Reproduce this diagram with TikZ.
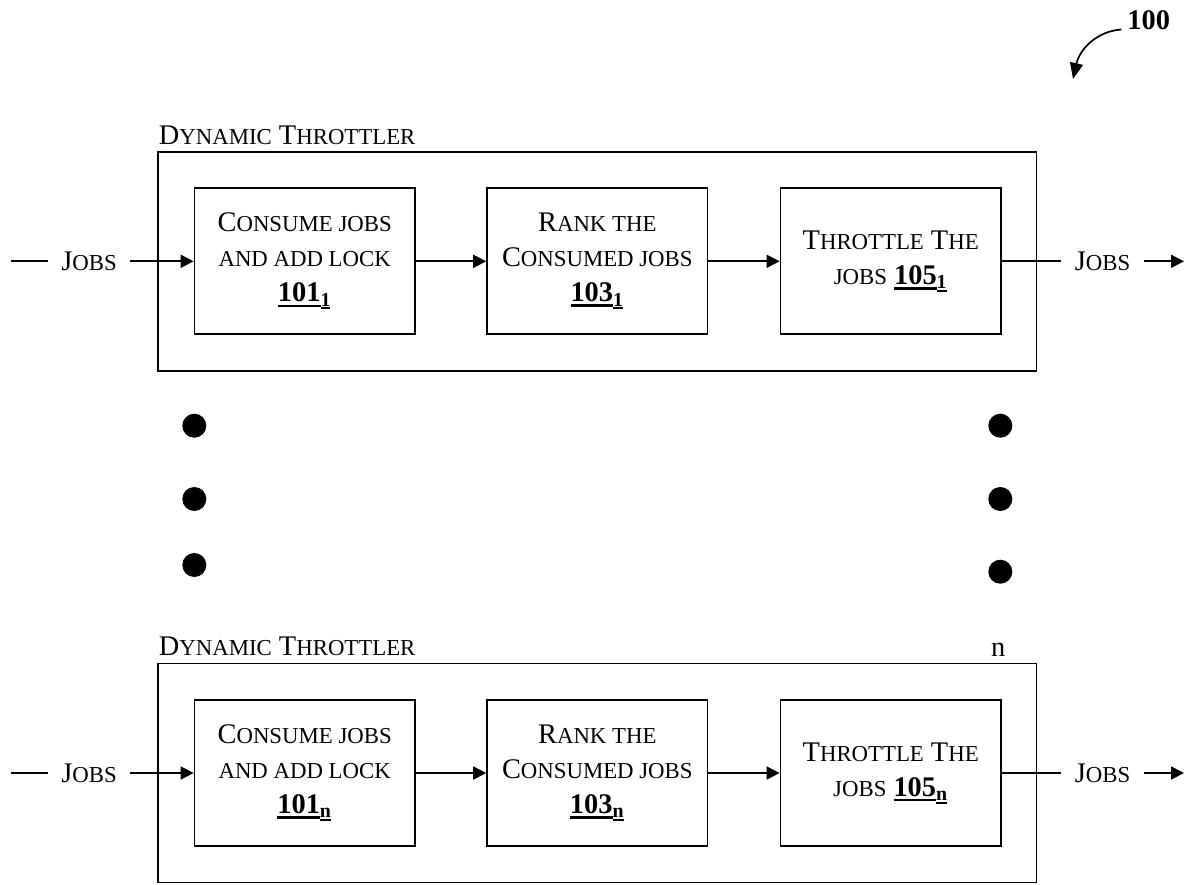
\documentclass[tikz,border=0pt]{standalone}
\usepackage{fontspec}
\setmainfont{Liberation Serif}
\usetikzlibrary{arrows.meta}

% faked small capitals: lower-case letters typed as smaller capitals
\newcommand\smc[1]{{\fontsize{11.4pt}{17.5pt}\selectfont #1}}
% heavy underline under a box of text
\newcommand\ulbar[3]{\setbox0\hbox{#1}\rlap{\rule[#2]{\wd0}{#3}}\box0}
% bold underlined reference numeral with a bold underlined index
\newcommand\refnum[2]{\textbf{\ulbar{#1}{-2.6pt}{1.3pt}}\textsubscript{\textbf{\ulbar{#2}{-1.6pt}{1pt}}}}

\tikzset{
  basefont/.style={font=\fontsize{14.2pt}{17.5pt}\selectfont},
  frame/.style={draw, line width=0.85pt, minimum width=439.3pt, minimum height=109.6pt, inner sep=0},
  stepbox/.style={draw, line width=0.85pt, minimum width=110.25pt, minimum height=73pt,
                  inner sep=0, align=center, basefont},
  flowlabel/.style={inner xsep=6.5pt, inner ysep=0, text height=9.4pt, text depth=0pt, basefont},
  plain/.style={line width=0.85pt},
  flow/.style={line width=0.85pt, -{Triangle[length=6.5pt,width=6.5pt]}},
  bigdot/.style={circle, fill, inner sep=0, minimum size=12pt},
  caption/.style={anchor=base west, inner sep=0, basefont}
}

\begin{document}
\begin{tikzpicture}[x=0.5pt, y=-0.5pt]
\useasboundingbox (0,0) rectangle (1192,884);

% ---- reference numeral
\node[anchor=base west, inner sep=0, font=\fontsize{14.2pt}{17.5pt}\selectfont\bfseries] (n100) at (1127,29.5) {100};
\coordinate (n100tip) at (1073,79);
\draw[line width=0.85pt, -{Triangle[length=8pt,width=6.5pt]}]
  ([xshift=-2.8pt]n100.base west) .. controls (1098,31) and (1080,48) .. (n100tip);

% ---- first throttler
\node[caption] (t-title) at (158.5,144) {D\smc{YNAMIC} T\smc{HROTTLER}};
\node[frame] (t-frame) at (597.3,261.3) {};
\node[stepbox] (t-a) at (304.7,261.3) {C\smc{ONSUME JOBS}\\\smc{AND ADD LOCK}\\\refnum{101}{1}};
\node[stepbox] (t-b) at (597.3,261.3) {R\smc{ANK THE}\\C\smc{ONSUMED JOBS}\\\refnum{103}{1}};
\node[stepbox] (t-c) at (890.7,261.3) {T\smc{HROTTLE} T\smc{HE}\\\smc{JOBS} \refnum{105}{1}};
\coordinate (t-start) at (11,261.3);
\node[flowlabel] (t-in) at (89,261.3) {J\smc{OBS}};
\node[flowlabel] (t-out) at (1102.5,261.3) {J\smc{OBS}};
\coordinate (t-end) at (1184,261.3);
\draw[plain] (t-start) -- (t-in);
\draw[flow] (t-in) -- (t-a);
\draw[flow] (t-a) -- (t-b);
\draw[flow] (t-b) -- (t-c);
\draw[plain] (t-c) -- (t-out);
\draw[flow] (t-out) -- (t-end);

% ---- ellipsis between the throttlers
\node[bigdot] (dl1) at (194.3,425.7) {};
\node[bigdot] (dl2) at (194.3,499) {};
\node[bigdot] (dl3) at (194.3,565) {};
\node[bigdot] (dr1) at (1000.3,425.7) {};
\node[bigdot] (dr2) at (1000.3,499) {};
\node[bigdot] (dr3) at (1000.3,571.7) {};

% ---- n-th throttler
\node[caption] (b-title) at (158.5,655) {D\smc{YNAMIC} T\smc{HROTTLER}};
\node[anchor=base, inner sep=0, basefont] (b-index) at (998.3,656) {n};
\node[frame] (b-frame) at (597.3,773) {};
\node[stepbox] (b-a) at (304.7,773) {C\smc{ONSUME JOBS}\\\smc{AND ADD LOCK}\\\refnum{101}{n}};
\node[stepbox] (b-b) at (597.3,773) {R\smc{ANK THE}\\C\smc{ONSUMED JOBS}\\\refnum{103}{n}};
\node[stepbox] (b-c) at (890.7,773) {T\smc{HROTTLE} T\smc{HE}\\\smc{JOBS} \refnum{105}{n}};
\coordinate (b-start) at (11,773);
\node[flowlabel] (b-in) at (89,773) {J\smc{OBS}};
\node[flowlabel] (b-out) at (1102.5,773) {J\smc{OBS}};
\coordinate (b-end) at (1184,773);
\draw[plain] (b-start) -- (b-in);
\draw[flow] (b-in) -- (b-a);
\draw[flow] (b-a) -- (b-b);
\draw[flow] (b-b) -- (b-c);
\draw[plain] (b-c) -- (b-out);
\draw[flow] (b-out) -- (b-end);
\end{tikzpicture}
\end{document}
